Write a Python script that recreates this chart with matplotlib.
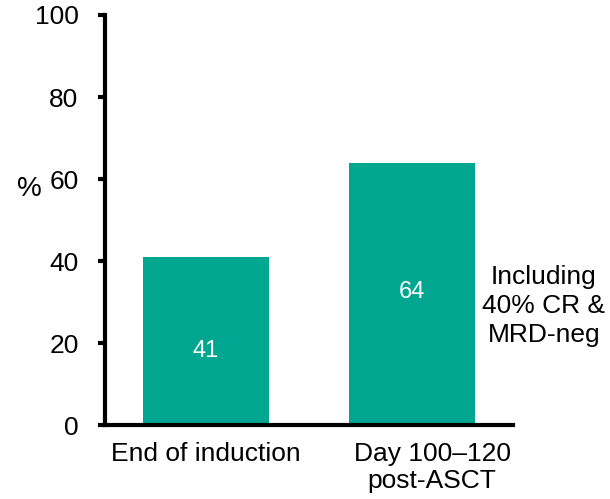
import matplotlib
matplotlib.use("Agg")
import matplotlib.pyplot as plt
from matplotlib.transforms import ScaledTranslation

plt.rcParams['font.family'] = ['Liberation Sans', 'DejaVu Sans']

categories = ["End of induction", "Day 100\u2013120\npost-ASCT"]
values = [41, 64]
yticks = [0, 20, 40, 60, 80, 100]
note = "Including\n40% CR &\nMRD-neg"

bar_color = "#00A68F"

fig = plt.figure(figsize=(6.10, 4.99), dpi=100)
ax = fig.add_axes([0.172, 0.148, 0.669, 0.822])

x = list(range(len(categories)))
bars = ax.bar(x, values, width=0.61, color=bar_color)

# value labels inside the bars
label_y = [18, 32.5]
for xi, v, ly in zip(x, values, label_y):
    ax.text(xi, ly, f"{v}", ha="center", va="center", color="white", fontsize=17)

ax.text(1.64, 29, note, ha="center", va="center", fontsize=19,
        multialignment="center", linespacing=1.25, clip_on=False)

ax.set_xlim(-0.49, 1.49)
ax.set_ylim(0, 100)
ax.set_yticks(yticks)
ax.set_xticks(x)
ax.set_xticklabels(categories, fontsize=19, linespacing=1.15)
ax.tick_params(axis="x", length=0, pad=12)
ax.tick_params(axis="y", length=5, width=3, pad=14, labelsize=19, direction="out")

# the second category label sits a little to the right of its bar
lbl = ax.get_xticklabels()[1]
lbl.set_transform(lbl.get_transform() + ScaledTranslation(0.20, 0, fig.dpi_scale_trans))

for s in ("top", "right"):
    ax.spines[s].set_visible(False)
for s in ("left", "bottom"):
    ax.spines[s].set_linewidth(3)
    ax.spines[s].set_color("black")

ax.set_ylabel("%", rotation=0, fontsize=20, ha="center", va="center")
ax.yaxis.set_label_coords(-0.186, 0.576)

fig.savefig("out.png", dpi=100)
